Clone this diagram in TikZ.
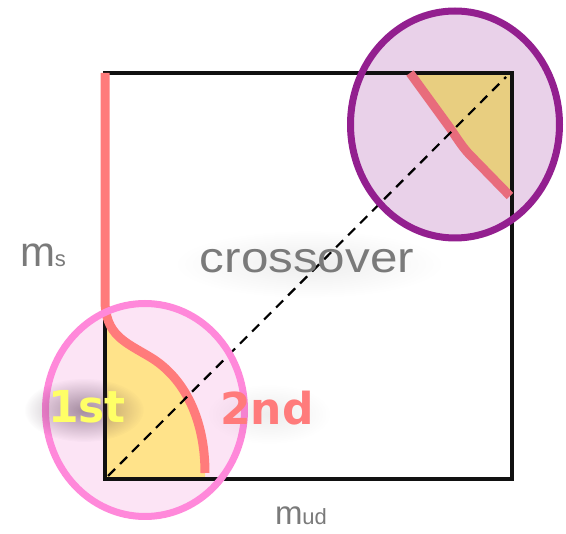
\documentclass[tikz,border=0pt]{standalone}
\usepackage{fontspec}
\usetikzlibrary{fadings}
\setmainfont{Liberation Sans}
\newfontfamily\dejab{DejaVu Sans}[BoldFont={DejaVu Sans Bold}]
\definecolor{sqblack}{HTML}{111111}
\definecolor{redc}{HTML}{FF7B7B}
\definecolor{redd}{HTML}{E86C7C}
\definecolor{yelA}{HTML}{FFE38A}
\definecolor{yelB}{HTML}{E8CE80}
\definecolor{purS}{HTML}{931F8F}
\definecolor{purF}{HTML}{E9D1E9}
\definecolor{pinkS}{HTML}{FF88DA}
\definecolor{pinkF}{HTML}{FCE4F5}
\definecolor{txtgray}{HTML}{7A7A7A}
\definecolor{firstc}{HTML}{FFFF66}
\definecolor{shadowc}{HTML}{3A2038}
\tikzfading[name=softfade, inner color=transparent!0, outer color=transparent!100]
\tikzset{
  sqline/.style={draw=sqblack,line width=4pt},
  curveA/.style={draw=redc,line width=9pt},
  curveB/.style={draw=redd,line width=9pt},
  diag/.style={draw=black,line width=2.2pt,dash pattern=on 10pt off 7pt},
  ringA/.style={draw=purS,line width=7pt},
  ringB/.style={draw=pinkS,line width=7pt},
  lbl/.style={inner sep=0pt,outer sep=0pt,text=txtgray},
  big/.style={inner sep=0pt,outer sep=0pt,font=\dejab\bfseries\fontsize{44}{44}\selectfont},
  soft/.style={path fading=softfade}
}
\begin{document}
\begin{tikzpicture}[x=1pt,y=-1pt]
\useasboundingbox[fill=white] (0,0) rectangle (566,534);
% circle fills
\fill[purF] (455,124.5) ellipse [x radius=104.5,y radius=113.5];
\fill[pinkF] (145,410) ellipse [x radius=99.5,y radius=106.5];
% yellow regions
\fill[yelA] (106,477) -- (106,300) .. controls (106,335) and (125,342) .. (150,357)
  .. controls (185,378) and (205,420) .. (205,473) -- (205,477) -- cycle;
\fill[yelB] (410,75) -- (450,128) .. controls (458,140) and (464,149) .. (470,155)
  -- (510,196) -- (510,75) -- cycle;
% square corners
\coordinate (tl) at (105,73);
\coordinate (tr) at (512,73);
\coordinate (br) at (512,479);
\coordinate (bl) at (105,479);
\draw[sqline,line join=miter] (tl) -- (tr) -- (br) -- (bl) -- cycle;
% red curves
\draw[curveA] (105,73) -- (105,300) .. controls (105,335) and (125,342) .. (150,357)
  .. controls (185,378) and (205,420) .. (205,473);
\draw[curveB] (410,73) -- (450,128) .. controls (458,140) and (464,149) .. (470,155)
  -- (510,196);
% diagonal
\coordinate (d1) at (108,476);
\coordinate (d2) at (506,77);
\draw[diag] (d1) -- (d2);
% circle rings
\draw[ringA] (455,124.5) ellipse [x radius=104.5,y radius=113.5];
\draw[ringB] (145,410) ellipse [x radius=99.5,y radius=106.5];
% soft shadows
\fill[shadowc,opacity=0.45,soft] (84,410) ellipse [x radius=60,y radius=32];
\fill[black,opacity=0.07,soft] (309,264) ellipse [x radius=135,y radius=34];
\fill[black,opacity=0.07,soft] (269,414) ellipse [x radius=62,y radius=30];
% labels
\node[lbl,anchor=base west] (ms) at (20,267) {\fontsize{42}{42}\selectfont m\fontsize{22}{22}\selectfont s};
\node[lbl,anchor=base west] (mud) at (275,525) {\fontsize{33}{33}\selectfont m\fontsize{22}{22}\selectfont ud};
\node[lbl,anchor=base,xscale=1.15] (cross) at (307,273) {\fontsize{43}{43}\selectfont crossover};
\node[big,anchor=base,text=firstc] (first) at (87,423) {1st};
\node[big,anchor=base,text=redc] (second) at (267,425) {2nd};
\end{tikzpicture}
\end{document}
